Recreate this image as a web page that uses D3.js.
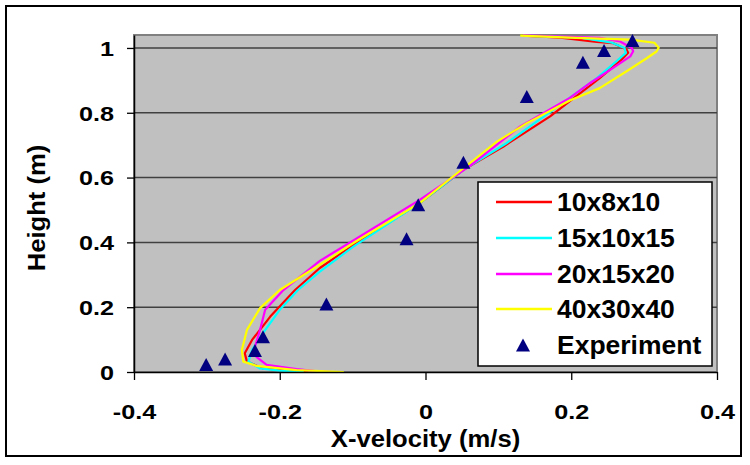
<!DOCTYPE html>
<html><head><meta charset="utf-8">
<script src="https://cdn.jsdelivr.net/npm/d3@7"></script>
<style>
body{margin:0;background:#fff}
text{font-family:"Liberation Sans",Arial,sans-serif;font-weight:bold;fill:#000}
</style>
</head><body><svg id="c" width="750" height="465"></svg>
<script>
// ---- data ----
const seriesNames = ["10x8x10", "15x10x15", "20x15x20", "40x30x40"];
const mesh10x8x10 = [[-0.161,0.000],[-0.190,0.004],[-0.223,0.011],[-0.245,0.032],[-0.248,0.058],[-0.238,0.099],[-0.213,0.171],[-0.179,0.253],[-0.145,0.321],[-0.099,0.392],[-0.008,0.521],[0.052,0.624],[0.107,0.696],[0.171,0.789],[0.239,0.907],[0.269,0.964],[0.278,0.985],[0.276,0.995],[0.257,1.015],[0.235,1.019],[0.185,1.032],[0.134,1.038]];
const mesh15x10x15 = [[-0.167,0.000],[-0.200,0.004],[-0.227,0.011],[-0.243,0.032],[-0.238,0.068],[-0.223,0.120],[-0.200,0.192],[-0.175,0.253],[-0.145,0.310],[-0.099,0.387],[-0.008,0.521],[0.052,0.624],[0.111,0.706],[0.166,0.794],[0.185,0.825],[0.235,0.907],[0.262,0.959],[0.275,0.985],[0.273,1.000],[0.256,1.016],[0.212,1.032],[0.134,1.038]];
const mesh20x15x20 = [[-0.127,0.000],[-0.145,0.001],[-0.177,0.009],[-0.218,0.022],[-0.232,0.047],[-0.234,0.078],[-0.227,0.130],[-0.220,0.192],[-0.195,0.253],[-0.145,0.343],[-0.099,0.406],[-0.008,0.531],[0.061,0.636],[0.130,0.758],[0.198,0.846],[0.226,0.892],[0.257,0.938],[0.281,0.974],[0.285,0.990],[0.283,1.000],[0.267,1.020],[0.239,1.031],[0.134,1.039]];
const mesh40x30x40 = [[-0.112,0.000],[-0.177,0.006],[-0.232,0.019],[-0.250,0.032],[-0.252,0.068],[-0.245,0.130],[-0.227,0.197],[-0.200,0.253],[-0.145,0.331],[-0.099,0.398],[-0.008,0.521],[0.061,0.645],[0.098,0.711],[0.139,0.768],[0.198,0.838],[0.239,0.876],[0.276,0.928],[0.304,0.969],[0.317,0.989],[0.320,1.001],[0.314,1.016],[0.281,1.026],[0.207,1.031],[0.130,1.038]];
const experimentX = [-0.301,-0.275,-0.234,-0.223,-0.136,-0.026,-0.010,0.052,0.139,0.216,0.245,0.284];
const experimentY = [0.023,0.040,0.066,0.109,0.210,0.411,0.516,0.647,0.850,0.956,0.992,1.023];
const xTicks = [-0.4,-0.2,0,0.2,0.4];
const yTicks = [0,0.2,0.4,0.6,0.8,1];
const xTitle = "X-velocity (m/s)";
const yTitle = "Height (m)";
const expName = "Experiment";

// ---- styles ----
const colors = ["#FF0000","#00FFFF","#FF00FF","#FFFF00"];
const navy = "#000080";
const seriesData = [mesh10x8x10, mesh15x10x15, mesh20x15x20, mesh40x30x40];

const svg = d3.select("#c");
const L = 134, R = 717, T = 35, B = 372;
const x = d3.scaleLinear().domain([-0.4,0.4]).range([L,R]);
const y = d3.scaleLinear().domain([0,1.04]).range([B,T]);
const fmt = d => String(+d.toFixed(1));

// outer frame
svg.append("rect").attr("x",6).attr("y",6).attr("width",735).attr("height",450)
  .attr("fill","#fff").attr("stroke","#000").attr("stroke-width",2);

// plot area
svg.append("rect").attr("x",L).attr("y",T).attr("width",R-L).attr("height",B-T)
  .attr("fill","#C0C0C0").attr("stroke","#808080").attr("stroke-width",2);

// gridlines
svg.append("g").selectAll("line").data(yTicks.filter(d=>d>0)).join("line")
  .attr("x1",L).attr("x2",R).attr("y1",d=>y(d)).attr("y2",d=>y(d))
  .attr("stroke","#404040").attr("stroke-width",1.5);

// series lines
const line = d3.line().x(d=>x(d[0])).y(d=>y(d[1]));
seriesData.forEach((s,i)=>{
  svg.append("path").datum(s).attr("d",line).attr("fill","none")
    .attr("stroke",colors[i]).attr("stroke-width",2.2).attr("stroke-linejoin","round");
});

// triangle symbol (bbox-centered)
const tri = {draw(ctx,size){const w=7,h=6.5;ctx.moveTo(0,-h);ctx.lineTo(w,h);ctx.lineTo(-w,h);ctx.closePath();}};
const sym = d3.symbol().type(tri);
svg.append("g").selectAll("path").data(experimentX.map((v,i)=>[v,experimentY[i]])).join("path")
  .attr("d",sym).attr("fill",navy)
  .attr("transform",d=>`translate(${x(d[0])},${y(d[1])})`);

// axes
const yAxis = svg.append("g").attr("transform",`translate(${L},0)`)
  .call(d3.axisLeft(y).tickValues(yTicks).tickFormat(fmt).tickSize(7).tickSizeOuter(0));
const xAxis = svg.append("g").attr("transform",`translate(0,${B})`)
  .call(d3.axisBottom(x).tickValues(xTicks).tickFormat(fmt).tickSize(8).tickSizeOuter(0));
[yAxis,xAxis].forEach(a=>{
  a.select(".domain").attr("stroke","#000").attr("stroke-width",1.5);
  a.selectAll(".tick line").attr("stroke","#000").attr("stroke-width",1.3);
  a.selectAll(".tick text").attr("font-size",21).attr("font-family",null).attr("fill","#000");
});
yAxis.selectAll(".tick text").attr("x",0).attr("dy","0.35em").attr("text-anchor","end")
  .attr("transform","translate(-20,0) scale(1.2,1)");
xAxis.selectAll(".tick text").attr("y",0).attr("dy",0)
  .attr("transform","translate(0,47) scale(1.2,1)");

// axis titles
svg.append("text").attr("text-anchor","middle").attr("font-size",23.3)
  .attr("transform",`translate(${x(0)},447) scale(1.1,1)`).text(xTitle);
svg.append("text").attr("text-anchor","middle").attr("font-size",23.3)
  .attr("transform",`translate(45,208) rotate(-90) scale(1.1,1)`).text(yTitle);

// legend
const lg = svg.append("g");
lg.append("rect").attr("x",478).attr("y",182).attr("width",234).attr("height",184)
  .attr("fill","#fff").attr("stroke","#000").attr("stroke-width",1.5);
const rowY = [202,238,274,309,345];
seriesNames.forEach((n,i)=>{
  lg.append("line").attr("x1",496).attr("x2",552).attr("y1",rowY[i]).attr("y2",rowY[i])
    .attr("stroke",colors[i]).attr("stroke-width",2.5);
  lg.append("text").attr("font-size",25).attr("dy","0.35em")
    .attr("transform",`translate(557,${rowY[i]}) scale(1.06,1)`).text(n);
});
lg.append("path").attr("d",sym).attr("fill",navy).attr("transform",`translate(523,${rowY[4]})`);
lg.append("text").attr("font-size",25).attr("dy","0.35em")
  .attr("transform",`translate(557,${rowY[4]}) scale(1.06,1)`).text(expName);
</script>
</body></html>
